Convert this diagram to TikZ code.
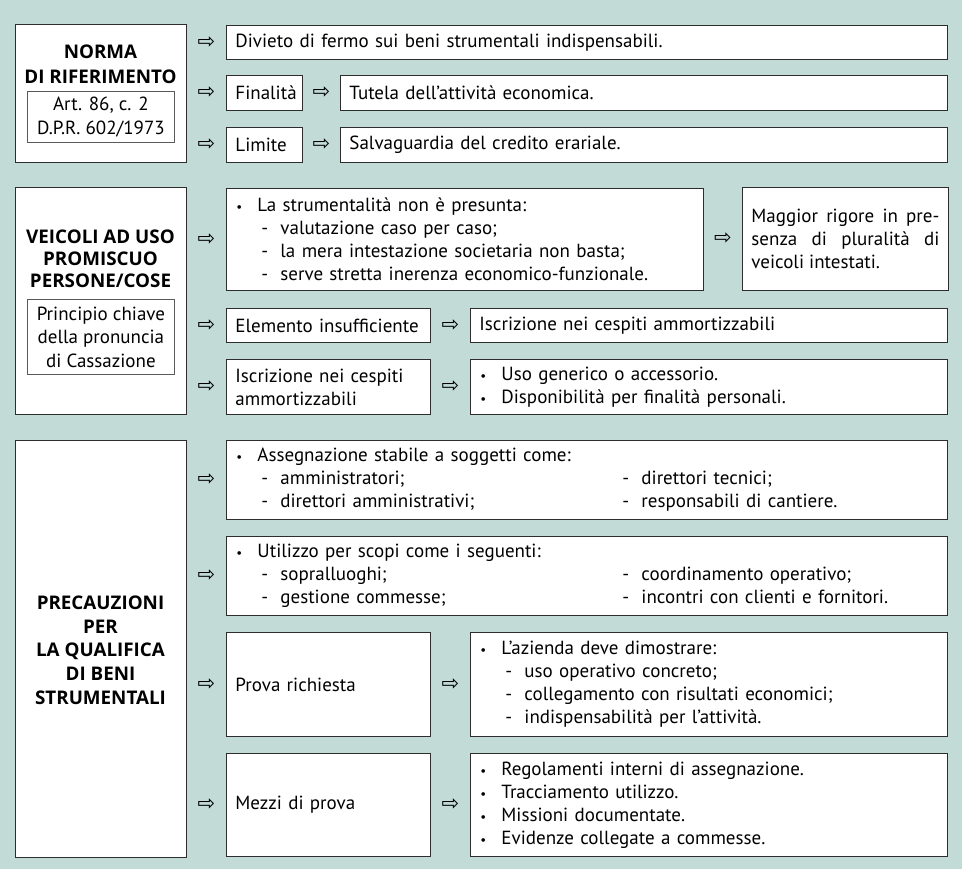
\documentclass[tikz,border=0pt]{standalone}
\usepackage{fontspec}
\setmainfont{PT Sans}
\newfontfamily\titlefont{Open Sans}[UprightFont=*-Bold]
\newfontfamily\arrowfont{DejaVu Sans}
\usepackage{tikz}
\usetikzlibrary{positioning,calc}
\definecolor{pagebg}{RGB}{194,219,214}
\definecolor{boxline}{RGB}{45,45,45}
\definecolor{refline}{RGB}{90,90,90}
\newcommand{\bul}[1]{\makebox[22pt][l]{\hspace*{1pt}{\fontsize{13}{13}\selectfont\textbullet}}#1}
\newcommand{\dsh}[1]{\hspace*{26pt}\makebox[19pt][l]{-}#1}
\newcommand{\twodsh}[2]{\makebox[387pt][l]{\dsh{#1}}\makebox[19pt][l]{-}#2}
\tikzset{
  cell/.style 2 args={draw=boxline, fill=white, line width=0.9pt, anchor=north west,
                      text width=#1, minimum height=#2, inner xsep=9pt, inner ysep=0pt,
                      align=left, font=\fontsize{19}{23}\selectfont},
  sidebox/.style 2 args={draw=boxline, fill=white, line width=0.9pt, anchor=north west,
                         minimum width=#1, minimum height=#2, inner sep=0pt},
  refbox/.style 2 args={draw=refline, fill=white, line width=0.8pt, anchor=north west,
                        minimum width=#1, minimum height=#2, inner sep=0pt,
                        align=center, font=\fontsize{19}{23.5}\selectfont},
  title/.style={align=center, inner sep=0pt, font=\titlefont\fontsize{18.8}{23.7}\selectfont},
  arrowglyph/.style={inner sep=0pt, font=\arrowfont\fontsize{21}{21}\selectfont}
}

\begin{document}
\begin{tikzpicture}[x=1pt, y=-1pt]
  \fill[pagebg] (0,0) rectangle (962,869);

  %% Norma di riferimento
  \node[sidebox={171pt}{138pt}] (normabox) at (15,24) {};
  \node[title, font=\titlefont\fontsize{18.8}{25}\selectfont] (normatitle) at (100.5,64) {NORMA\\DI RIFERIMENTO};
  \node[refbox={147pt}{51pt}] (normaref) at (27,91) {Art. 86, c. 2\\D.P.R. 602/1973};
  \node[cell={703pt}{34pt}] (divieto) at (226,25) {Divieto di fermo sui beni strumentali indispensabili.};
  \node[cell={58pt}{35pt}] (finalita) at (226,75) {Finalità};
  \node[cell={589pt}{35pt}] (tutela) at (340,75) {Tutela dell’attività economica.};
  \node[cell={58pt}{35pt}] (limite) at (226,127) {Limite};
  \node[cell={589pt}{35pt}] (salva) at (340,127) {Salvaguardia del credito erariale.};

  %% Veicoli ad uso promiscuo
  \node[sidebox={171pt}{227pt}] (veicbox) at (15,187) {};
  \node[title, font=\titlefont\fontsize{18.8}{22}\selectfont] (veictitle) at (100.5,259)
       {VEICOLI AD USO\\PROMISCUO\\PERSONE/COSE};
  \node[refbox={147pt}{75pt}] (veicref) at (27,299) {Principio chiave\\della pronuncia\\di Cassazione};
  \node[cell={459pt}{102pt}] (strum) at (226,188)
       {\bul{La strumentalità non è presunta:}\\
        \dsh{valutazione caso per caso;}\\
        \dsh{la mera intestazione societaria non basta;}\\
        \dsh{serve stretta inerenza economico-funzionale.}};
  \node[cell={188pt}{103pt}, align=justify] (rigore) at (742,187)
       {Maggior rigore in pre-\linebreak senza di pluralità di\linebreak veicoli intestati.};
  \node[cell={186pt}{34pt}] (elemento) at (226,308) {Elemento insufficiente};
  \node[cell={459pt}{34pt}] (iscrA) at (470,308) {Iscrizione nei cespiti ammortizzabili};
  \node[cell={186pt}{55pt}] (iscrB) at (226,359) {Iscrizione nei cespiti\\ammortizzabili};
  \node[cell={459pt}{55pt}] (uso) at (470,359)
       {\bul{Uso generico o accessorio.}\\
        \bul{Disponibilità per finalità personali.}};

  %% Precauzioni
  \node[sidebox={171pt}{417pt}] (precbox) at (15,440) {};
  \node[title] (prectitle) at (100.5,650)
       {PRECAUZIONI\\PER\\LA QUALIFICA\\DI BENI\\STRUMENTALI};
  \node[cell={703pt}{79pt}] (assegn) at (226,440)
       {\bul{Assegnazione stabile a soggetti come:}\\
        \twodsh{amministratori;}{direttori tecnici;}\\
        \twodsh{direttori amministrativi;}{responsabili di cantiere.}};
  \node[cell={703pt}{79pt}] (utilizzo) at (226,536)
       {\bul{Utilizzo per scopi come i seguenti:}\\
        \twodsh{sopralluoghi;}{coordinamento operativo;}\\
        \twodsh{gestione commesse;}{incontri con clienti e fornitori.}};
  \node[cell={186pt}{104pt}] (prova) at (226,632) {Prova richiesta};
  \node[cell={459pt}{104pt}] (azienda) at (470,632)
       {\bul{L’azienda deve dimostrare:}\\
        \dsh{uso operativo concreto;}\\
        \dsh{collegamento con risultati economici;}\\
        \dsh{indispensabilità per l’attività.}};
  \node[cell={186pt}{103pt}] (mezzi) at (226,753) {Mezzi di prova};
  \node[cell={459pt}{103pt}] (regol) at (470,753)
       {\bul{Regolamenti interni di assegnazione.}\\
        \bul{Tracciamento utilizzo.}\\
        \bul{Missioni documentate.}\\
        \bul{Evidenze collegate a commesse.}};

  %% Frecce tra i riquadri
  \foreach \src/\dst in {normabox/divieto, normabox/finalita, normabox/limite,
                         finalita/tutela, limite/salva,
                         veicbox/strum, strum/rigore, veicbox/elemento, elemento/iscrA,
                         veicbox/iscrB, iscrB/uso,
                         precbox/assegn, precbox/utilizzo, precbox/prova, prova/azienda,
                         precbox/mezzi, mezzi/regol}{
    \node[arrowglyph] (arr-\dst) at ($(\src.east |- \dst.west)!0.5!(\dst.west)$) {⇨};
  }
\end{tikzpicture}
\end{document}
